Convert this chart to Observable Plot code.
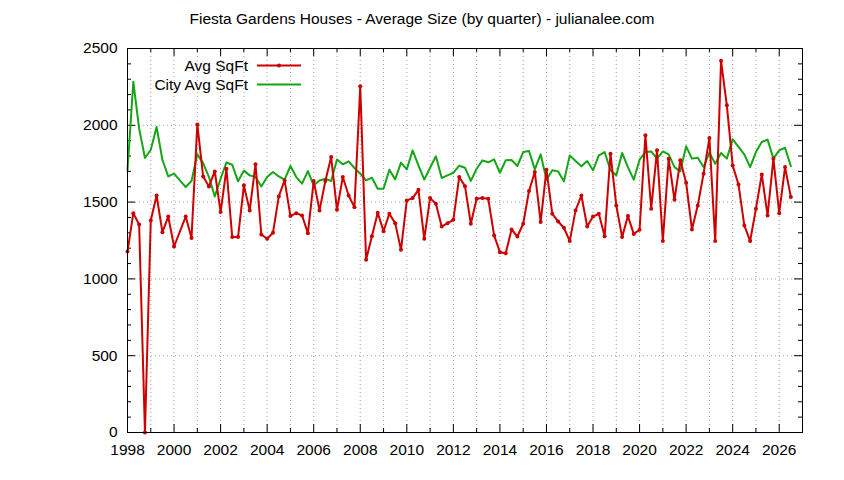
<!DOCTYPE html>
<html>
<head>
<meta charset="utf-8">
<script src="https://cdn.jsdelivr.net/npm/d3@7"></script>
<script src="https://cdn.jsdelivr.net/npm/@observablehq/plot@0.6"></script>
<style>
  html, body { margin: 0; padding: 0; background: #fff; }
  #wrap { position: relative; width: 844px; height: 480px; font-family: "Liberation Sans", Arial, sans-serif; }
  #title { position: absolute; left: 0; top: 10px; width: 844px; text-align: center; font-size: 15.5px; color: #000; }
  #legend { position: absolute; left: 0; top: 0; width: 844px; height: 480px; pointer-events: none; }
  .lg { position: absolute; right: 596px; font-size: 15.5px; line-height: 18px; white-space: nowrap; }
</style>
</head>
<body>
<div id="wrap">
  <div id="chart"></div>
  <div id="title"></div>
  <div id="legend"></div>
</div>
<script>
// ---- data (quarterly, starting 1998 Q1) ----
const startYear = 1998;
const seriesNames = ["Avg SqFt", "City Avg SqFt"];
const titleText = "Fiesta Gardens Houses - Average Size (by quarter) - julianalee.com";

const avgSqFt = [
  1178, 1428, 1354, 0,
  1380, 1543, 1304, 1406,
  1211, null, 1406, 1267,
  2006, 1667, 1602, 1700,
  1435, 1717, 1272, 1272,
  1609, 1446, 1746, 1289,
  1261, 1300, 1537, 1641,
  1409, 1428, 1413, 1298,
  1637, 1446, 1637, 1793,
  1450, 1663, 1543, 1467,
  2254, 1124, 1278, 1430,
  1311, 1424, 1363, 1189,
  1511, 1526, 1580, 1261,
  1526, 1489, 1341, 1363,
  1385, 1663, 1604, 1359,
  1522, 1526, 1522, 1283,
  1174, 1167, 1322, 1276,
  1359, 1572, 1696, 1370,
  1711, 1424, 1374, 1333,
  1246, 1446, 1543, 1341,
  1406, 1424, 1278, 1815,
  1478, 1272, 1409, 1293,
  1320, 1935, 1457, 1837,
  1246, 1783, 1515, 1772,
  1626, 1322, 1478, 1685,
  1917, 1246, 2420, 2130,
  1739, 1615, 1348, 1246,
  1457, 1680, 1413, 1783,
  1428, 1728, 1533
];

const cityAvgSqFt = [
  1706, 2283, 1978, 1787,
  1841, 1989, 1776, 1667,
  1685, 1641, 1598, 1637,
  1811, 1754, 1663, 1537,
  1652, 1758, 1743, 1635,
  1705, 1674, 1663, 1602,
  1663, 1696, 1667, 1646,
  1735, 1663, 1620, 1702,
  1609, 1641, 1652, 1637,
  1778, 1746, 1765, 1722,
  1685, 1641, 1659, 1587,
  1587, 1711, 1648, 1757,
  1713, 1837, 1739, 1646,
  1724, 1798, 1657, 1674,
  1691, 1737, 1724, 1638,
  1717, 1772, 1759, 1778,
  1691, 1772, 1774, 1735,
  1826, 1833, 1713, 1811,
  1646, 1707, 1700, 1635,
  1804, 1767, 1733, 1767,
  1707, 1804, 1826, 1707,
  1674, 1820, 1728, 1646,
  1776, 1826, 1830, 1783,
  1830, 1811, 1728, 1700,
  1863, 1783, 1789, 1728,
  1822, 1750, 1820, 1783,
  1909, 1859, 1811, 1728,
  1826, 1891, 1907, 1783,
  1837, 1854, 1733
];

const xTickLabels = [1998, 2000, 2002, 2004, 2006, 2008, 2010, 2012, 2014, 2016, 2018, 2020, 2022, 2024, 2026];
const yTickLabels = [0, 500, 1000, 1500, 2000, 2500];
const xDomain = [1998, 2027];
const yDomain = [0, 2500];

// ---- build tables ----
const toRows = arr => arr.map((v, i) => ({x: startYear + i / 4, y: v})).filter(d => d.y != null);
const avgRows = toRows(avgSqFt);
const cityRows = toRows(cityAvgSqFt);

const RED = "#cc0000", GREEN = "#16a516";
const mL = 127, mR = 42, mT = 48, mB = 48, W = 844, H = 480;
const fw = W - mL - mR, fh = H - mT - mB;

const yearGrid = d3.range(xDomain[0] + 1, xDomain[1]);
const xMinor = yearGrid.filter(y => !xTickLabels.includes(y));
const yMinor = d3.range(100, 2500, 100).filter(v => v % 500 !== 0);
const yGrid = yTickLabels.filter(v => v > yDomain[0] && v < yDomain[1]);
const xMajorInner = xTickLabels.filter(v => v > xDomain[0]);

const gridStyle = {stroke: "#a0a0a0", strokeOpacity: 1, strokeWidth: 1, strokeDasharray: "1,3"};

const chart = Plot.plot({
  width: W, height: H,
  marginLeft: mL, marginRight: mR, marginTop: mT, marginBottom: mB,
  style: {fontFamily: "'Liberation Sans', Arial, sans-serif", fontSize: "15.5px", color: "#000", background: "#fff", overflow: "visible"},
  x: {domain: xDomain, ticks: xTickLabels, tickSize: 0, tickPadding: 11, tickFormat: d => String(d), label: null},
  y: {domain: yDomain, ticks: yTickLabels, tickSize: 0, tickPadding: 10, tickFormat: d => String(d), label: null},
  marks: [
    Plot.ruleX(yearGrid, gridStyle),
    Plot.ruleY(yGrid, gridStyle),
    // major ticks (inward) bottom/top
    Plot.ruleX(xMajorInner, {stroke: "#000", insetTop: fh - 8}),
    Plot.ruleX(xMajorInner, {stroke: "#000", insetBottom: fh - 8}),
    Plot.ruleX(xMinor, {stroke: "#000", insetTop: fh - 4}),
    Plot.ruleX(xMinor, {stroke: "#000", insetBottom: fh - 4}),
    // y ticks left/right
    Plot.ruleY(yGrid, {stroke: "#000", insetRight: fw - 8}),
    Plot.ruleY(yGrid, {stroke: "#000", insetLeft: fw - 8}),
    Plot.ruleY(yMinor, {stroke: "#000", insetRight: fw - 4}),
    Plot.ruleY(yMinor, {stroke: "#000", insetLeft: fw - 4}),
    Plot.line(cityRows, {x: "x", y: "y", stroke: GREEN, strokeWidth: 2}),
    Plot.line(avgRows, {x: "x", y: "y", stroke: RED, strokeWidth: 2}),
    Plot.dot(avgRows, {x: "x", y: "y", fill: RED, r: 2}),
    Plot.frame({stroke: "#000", strokeWidth: 1})
  ]
});
document.getElementById("chart").appendChild(chart);
document.getElementById("title").textContent = titleText;

// ---- legend (inside plot, top-left) ----
const legend = document.getElementById("legend");
const colors = [RED, GREEN];
seriesNames.forEach((name, i) => {
  const cy = 66 + i * 19;
  const t = document.createElement("div");
  t.className = "lg";
  t.style.top = (cy - 9) + "px";
  t.textContent = name;
  legend.appendChild(t);
});
const ns = "http://www.w3.org/2000/svg";
const svg = document.createElementNS(ns, "svg");
svg.setAttribute("width", W); svg.setAttribute("height", H);
svg.style.position = "absolute"; svg.style.left = "0"; svg.style.top = "0";
seriesNames.forEach((name, i) => {
  const cy = 65.5 + i * 19;
  const ln = document.createElementNS(ns, "line");
  ln.setAttribute("x1", 257); ln.setAttribute("x2", 301);
  ln.setAttribute("y1", cy); ln.setAttribute("y2", cy);
  ln.setAttribute("stroke", colors[i]); ln.setAttribute("stroke-width", 2);
  svg.appendChild(ln);
  if (i === 0) {
    const c = document.createElementNS(ns, "circle");
    c.setAttribute("cx", 279); c.setAttribute("cy", cy); c.setAttribute("r", 2);
    c.setAttribute("fill", colors[i]);
    svg.appendChild(c);
  }
});
legend.appendChild(svg);
</script>
</body>
</html>
